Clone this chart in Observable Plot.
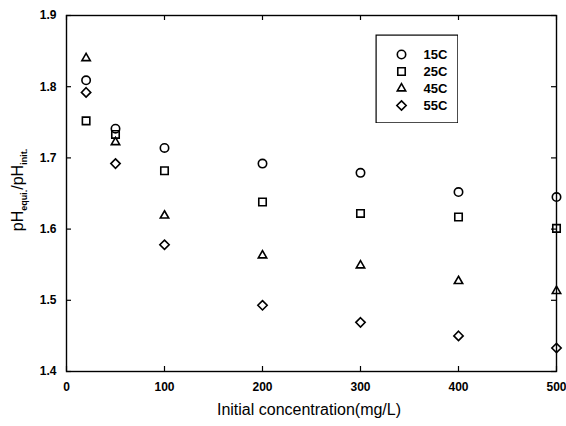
<!DOCTYPE html>
<html>
<head>
<meta charset="utf-8">
<script src="https://cdn.jsdelivr.net/npm/d3@7"></script>
<script src="https://cdn.jsdelivr.net/npm/@observablehq/plot@0.6"></script>
<style>
  body { margin: 0; background: #fff; }
  #chart { position: relative; width: 566px; height: 426px; font-family: "Liberation Sans", Arial, sans-serif; }
  #legend { position: absolute; left: 375px; top: 34px; }
</style>
</head>
<body>
<div id="chart"></div>
<script>
// Initial concentration (mg/L)
const concentrations = [20, 50, 100, 200, 300, 400, 500];
// Temperature series
const series = ["15C", "25C", "45C", "55C"];
// pH_equi / pH_init ratio for each temperature
const ratio15 = [1.809, 1.741, 1.714, 1.692, 1.679, 1.652, 1.645];
const ratio25 = [1.752, 1.733, 1.682, 1.638, 1.622, 1.617, 1.601];
const ratio45 = [1.840, 1.722, 1.619, 1.563, 1.549, 1.527, 1.513];
const ratio55 = [1.792, 1.692, 1.578, 1.493, 1.469, 1.450, 1.433];
const xTicks = [0, 100, 200, 300, 400, 500];
const yTicks = [1.4, 1.5, 1.6, 1.7, 1.8, 1.9];

// open markers; the triangle is drawn a little smaller so all four look alike in size
const smallTriangle = { draw(context, size) { d3.symbolTriangle.draw(context, size * 0.55); } };
const symbols = ["circle", "square", smallTriangle, "diamond2"];

const seriesValues = [ratio15, ratio25, ratio45, ratio55];
const rows = series.flatMap((s, i) =>
  concentrations.map((c, j) => ({ series: s, conc: c, ratio: seriesValues[i][j] })));

const font = { fontFamily: "Liberation Sans, Arial, sans-serif", fontSize: 12, fontWeight: "bold" };
const innerH = 426 - 15 - 55;
const innerW = 566 - 66 - 10;
const tick = 5;

const chart = Plot.plot({
  width: 566,
  height: 426,
  marginLeft: 66,
  marginRight: 10,
  marginTop: 15,
  marginBottom: 55,
  style: { background: "#fff", color: "#000", fontFamily: font.fontFamily },
  x: { domain: [0, 500], label: null },
  y: { domain: [1.4, 1.9], label: null },
  symbol: { domain: series, range: symbols },
  marks: [
    Plot.frame({ stroke: "#000", strokeWidth: 1.4 }),
    // inward ticks on all four sides
    Plot.tickX(xTicks, { x: d => d, insetTop: innerH - tick, stroke: "#000", strokeWidth: 1.2 }),
    Plot.tickX(xTicks, { x: d => d, insetBottom: innerH - tick, stroke: "#000", strokeWidth: 1.2 }),
    Plot.tickY(yTicks, { y: d => d, insetRight: innerW - tick, stroke: "#000", strokeWidth: 1.2 }),
    Plot.tickY(yTicks, { y: d => d, insetLeft: innerW - tick, stroke: "#000", strokeWidth: 1.2 }),
    // tick labels
    Plot.axisX({ ticks: xTicks, anchor: "bottom", tickSize: 0, tickPadding: 11, ...font }),
    Plot.axisY({ ticks: yTicks, anchor: "left", tickSize: 0, tickPadding: 10, tickFormat: ".1f", ...font }),
    Plot.dot(rows, { x: "conc", y: "ratio", symbol: "series", r: 4.2, stroke: "#000", strokeWidth: 1.6, fill: "none" })
  ]
});

// axis titles
const svg = d3.select(chart);
svg.append("text")
  .attr("x", 309).attr("y", 415)
  .attr("text-anchor", "middle")
  .style("font-family", "Liberation Sans, Arial, sans-serif")
  .style("font-size", "16px")
  .text("Initial concentration(mg/L)");

const yl = svg.append("text")
  .attr("transform", "translate(23,190) rotate(-90)")
  .attr("text-anchor", "middle")
  .style("font-family", "Liberation Sans, Arial, sans-serif")
  .style("font-size", "16px");
yl.append("tspan").text("pH");
yl.append("tspan").attr("dy", 4).style("font-size", "9px").style("font-weight", "bold").text("equi.");
yl.append("tspan").attr("dy", -4).text("/pH");
yl.append("tspan").attr("dy", 4).style("font-size", "9px").style("font-weight", "bold").text("init.");

document.getElementById("chart").append(chart);

// legend box
const legend = Plot.plot({
  width: 83,
  height: 89,
  margin: 0,
  style: { background: "#fff", color: "#000" },
  y: { domain: series, type: "point", padding: 0, axis: null, insetTop: 19, insetBottom: 17 },
  x: { axis: null },
  symbol: { domain: series, range: symbols },
  marks: [
    Plot.frame({ stroke: "#000", strokeWidth: 1.2, inset: 0.6 }),
    Plot.dot(series, { y: d => d, symbol: d => d, frameAnchor: "left", dx: 26, r: 4.2, stroke: "#000", strokeWidth: 1.6, fill: "none" }),
    Plot.text(series, { y: d => d, text: d => d, frameAnchor: "left", dx: 48, textAnchor: "start", ...font, fontSize: 13 })
  ]
});
legend.id = "legend";
document.getElementById("chart").append(legend);
</script>
</body>
</html>
